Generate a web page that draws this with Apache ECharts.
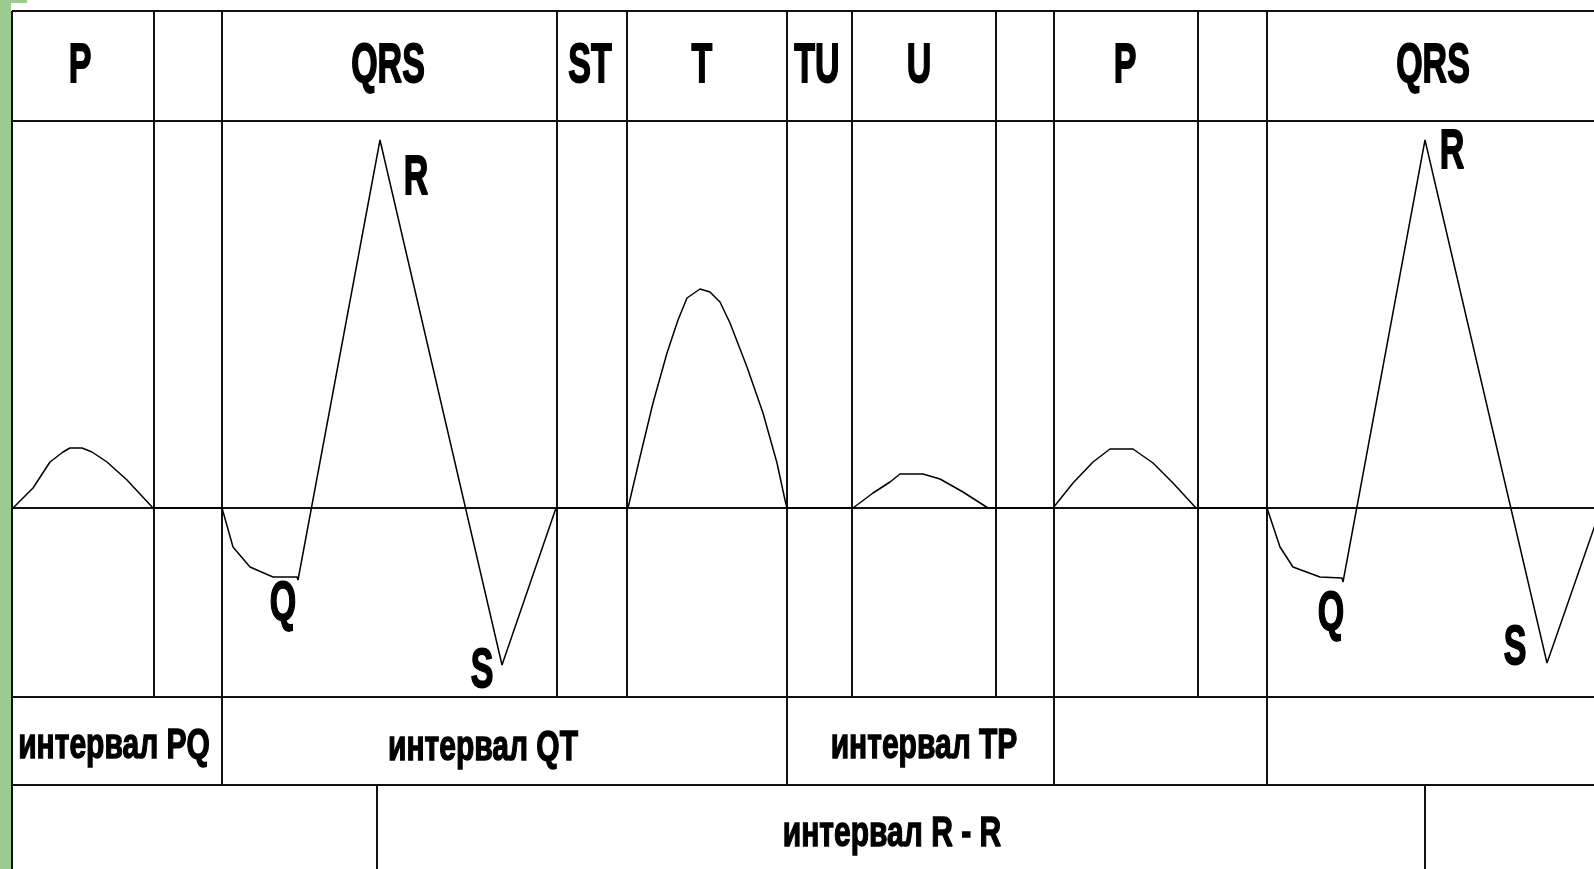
<!DOCTYPE html>
<html><head><meta charset="utf-8">
<script src="https://cdn.jsdelivr.net/npm/echarts@6/dist/echarts.min.js"></script>
<style>html,body{margin:0;padding:0;background:#fff;overflow:hidden}#c{width:1594px;height:869px}</style>
</head><body><div id="c"></div>
<script>
// ECG trace: [time, amplitude]; amplitude 0 = isoline
const ecgTrace = [
  [13,0],[33,20],[50,46],[63,56],[70,60],[82,60],[92,56],[107,46],[127,28],[153,0],
  [222,0],[233,-39],[250,-59],[273,-69],[297,-69],[298,-72],
  [380,368],
  [502,-157],
  [556,0],[628,0],
  [640,51],[653,105],[667,155],[678,188],[687,210],[700,219],[710,216],[720,206],[730,185],[747,141],[763,95],[777,45],[785,8],[787,0],
  [853,0],[873,15],[890,26],[900,34],[923,34],[940,29],[963,16],[988,0],
  [1053,0],[1073,25],[1093,46],[1110,59],[1133,59],[1153,45],[1173,25],[1196,0],
  [1267,0],[1280,-39],[1293,-59],[1320,-69],[1342,-70],[1343,-74],
  [1425,368],
  [1547,-155],
  [1601,0]
];

// header row: wave / segment names
const waveNames = ['P','QRS','ST','T','TU','U','P','QRS'];
const waveNameTimes = [80,388,590,702,817,919,1125,1433];
const waveNameAmp = 441;

// peak letters
const peakNames = ['R','Q','S','R','Q','S'];
const peakTimes = [416,283,482,1452,1331,1515];
const peakAmps = [329,-97,-164,355,-107,-141];

// interval labels
const intervalNames = ['интервал PQ','интервал QT','интервал TP','интервал R - R'];
const intervalTimes = [114,483,924,892];
const intervalAmps = [-238,-240,-238,-326];

// table rules
const rowLevels = [497,387,0,-189,-277];
const tableStart = 12, tableEnd = 1594, tableTop = 497, tableBottom = -361;
const waveDividers = [154,557,627,852,996,1198];     // down to bottom of wave row
const intervalDividers = [222,787,1054,1267];        // down to bottom of interval row
const rrDividers = [377,1425];                       // in R-R row

const segs = [];
rowLevels.forEach(a => segs.push([tableStart, a, tableEnd, a]));
segs.push([tableStart, tableTop, tableStart, tableBottom]);
waveDividers.forEach(t => segs.push([t, tableTop, t, rowLevels[3]]));
intervalDividers.forEach(t => segs.push([t, tableTop, t, rowLevels[4]]));
rrDividers.forEach(t => segs.push([t, rowLevels[4], t, tableBottom]));

const FONT = '"Liberation Sans", Arial, sans-serif';

function textSeries(times, amps, names, size, sx, sy, sw) {
  return {
    type: 'custom',
    coordinateSystem: 'cartesian2d',
    data: times.map((t, i) => [t, amps[i]]),
    z: 5,
    silent: true,
    renderItem(params, api) {
      const p = api.coord([api.value(0), api.value(1)]);
      return {
        type: 'text',
        x: p[0], y: p[1],
        scaleX: sx, scaleY: sy,
        style: {
          text: names[params.dataIndex],
          font: 'bold ' + size + 'px ' + FONT,
          fill: '#000',
          stroke: '#000',
          lineWidth: sw,
          align: 'center',
          verticalAlign: 'middle'
        }
      };
    }
  };
}

const chart = echarts.init(document.getElementById('c'), null, {renderer: 'canvas'});
chart.setOption({
  animation: false,
  backgroundColor: '#ffffff',
  grid: {left: 0, right: 0, top: 0, bottom: 0, containLabel: false},
  xAxis: {type: 'value', min: 0, max: 1594, show: false},
  yAxis: {type: 'value', min: -361, max: 508, show: false},
  graphic: [
    {type: 'rect', z: 0, shape: {x: 0, y: 0, width: 11, height: 869}, style: {fill: '#9bcb8f'}},
    {type: 'rect', z: 0, shape: {x: 0, y: 0, width: 27, height: 3}, style: {fill: '#9bcb8f'}}
  ],
  series: [
    {
      type: 'custom',
      coordinateSystem: 'cartesian2d',
      data: segs,
      encode: {x: [0, 2], y: [1, 3]},
      silent: true,
      z: 2,
      renderItem(params, api) {
        const a = api.coord([api.value(0), api.value(1)]);
        const b = api.coord([api.value(2), api.value(3)]);
        return {type: 'line', shape: {x1: a[0], y1: a[1], x2: b[0], y2: b[1]},
                style: {stroke: '#111', lineWidth: 2}};
      }
    },
    {
      type: 'line',
      data: ecgTrace,
      showSymbol: false,
      symbol: 'none',
      clip: true,
      z: 3,
      lineStyle: {color: '#000', width: 1.5}
    },
    textSeries(waveNameTimes, waveNameTimes.map(() => waveNameAmp), waveNames, 50, 0.68, 1.12, 1.6),
    textSeries(peakTimes, peakAmps, peakNames, 50, 0.68, 1.12, 1.6),
    textSeries(intervalTimes, intervalAmps, intervalNames, 40, 0.75, 1.08, 1.3)
  ]
});
</script>
</body></html>
